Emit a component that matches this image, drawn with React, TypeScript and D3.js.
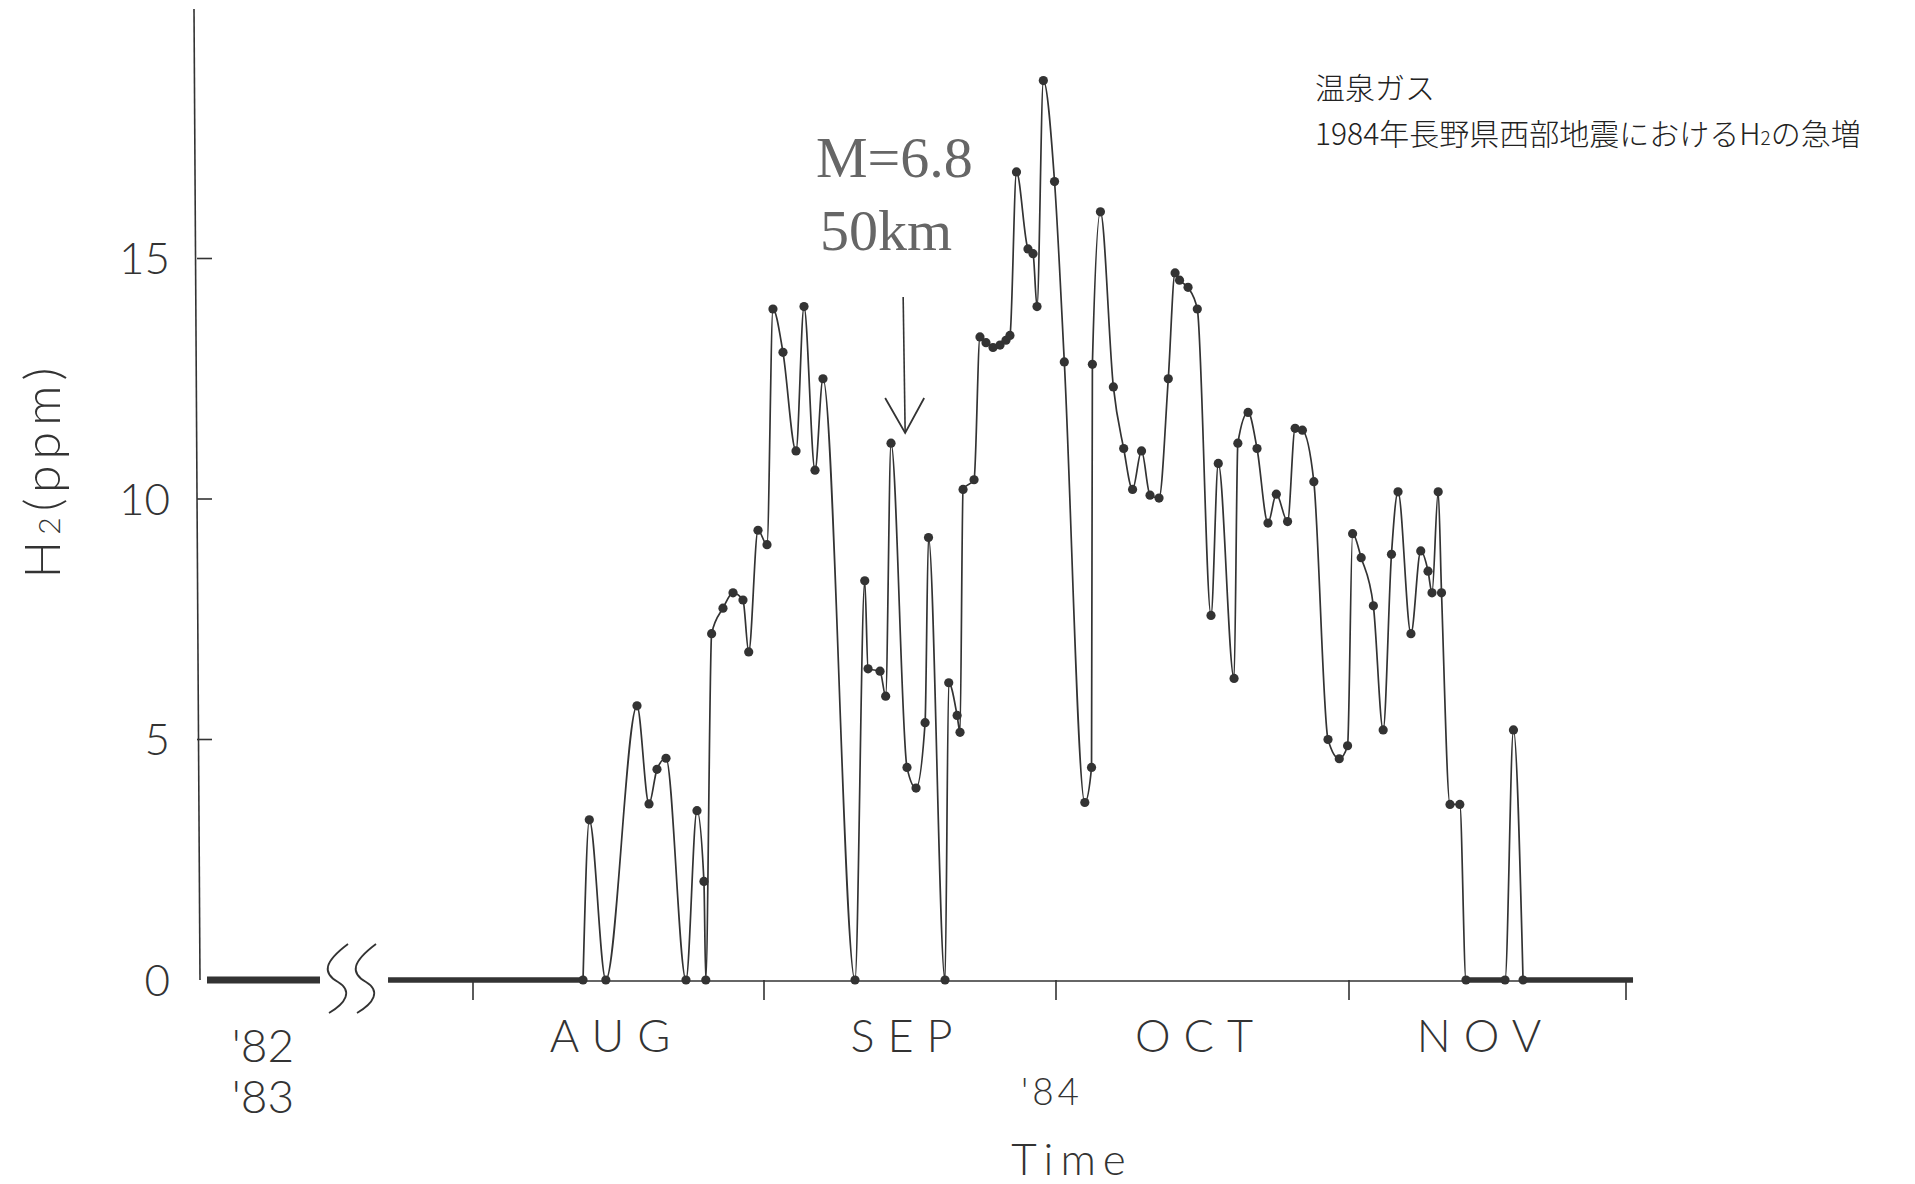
import React from "react";
import * as d3 from "d3";

// ---- data (days counted from 1 Aug 1984) ----
const days: number[] = [
  11.72, 12.39, 14.15, 17.47, 18.75, 19.6, 20.56, 22.69, 23.86, 24.6, 24.8,
  25.42, 26.63, 27.7, 28.76, 29.37, 30.36, 31.31, 31.92, 32.95, 34.29, 35.11,
  36.24, 37.06, 40.35, 41.35, 41.69, 42.92, 43.5, 44.05, 45.69, 46.62, 47.55,
  47.9, 49.6, 49.98, 50.84, 51.14, 51.45, 52.58, 53.19, 53.81, 54.53, 55.25,
  55.86, 56.27, 56.94, 58.12, 58.64, 59.05, 59.7, 60.85, 61.88, 64.05, 64.76,
  64.85, 65.7, 67.07, 68.16, 69.1, 70.05, 70.95, 71.9, 72.88, 73.6, 74.07,
  74.97, 75.95, 77.4, 78.17, 79.84, 80.24, 81.32, 82.27, 83.43, 84.31, 85.5,
  86.3, 87.07, 88.28, 89.78, 90.97, 91.85, 92.39, 93.32, 94.64, 95.7, 96.6,
  97.31, 98.71, 99.77, 100.56, 100.99, 101.66, 102.02, 102.94, 104.0, 104.67,
  108.9, 109.81, 110.85,
];
const h2ppm: number[] = [
  0, 3.33, 0, 5.7, 3.66, 4.38, 4.61, 0, 3.52, 2.05, 0,
  7.2, 7.73, 8.05, 7.9, 6.82, 9.35, 9.05, 13.95, 13.05, 11.0, 14.0,
  10.6, 12.5, 0, 8.3, 6.47, 6.42, 5.9, 11.16, 4.42, 3.99, 5.35,
  9.2, 0, 6.18, 5.5, 5.15, 10.2, 10.4, 13.37, 13.25, 13.15, 13.2,
  13.3, 13.4, 16.8, 15.2, 15.1, 14.0, 18.7, 16.6, 12.85, 3.69, 4.42,
  12.8, 15.97, 12.33, 11.05, 10.2, 11.0, 10.08, 10.02, 12.5, 14.7, 14.55,
  14.4, 13.95, 7.58, 10.74, 6.27, 11.16, 11.8, 11.05, 9.5, 10.1, 9.53,
  11.47, 11.43, 10.36, 5.0, 4.6, 4.87, 9.28, 8.78, 7.78, 5.2, 8.85,
  10.15, 7.2, 8.92, 8.5, 8.05, 10.15, 8.05, 3.65, 3.65, 0,
  0, 5.2, 0,
];
// periods with H2 = 0 (start day, end day)
const zeroRuns84: [number, number][] = [[-9.05, 11.72], [104.67, 108.9], [110.85, 122.76]];
const zeroRuns8283: [number, number][] = [[1982, 1984]];

const monthTickDays: number[] = [0, 31, 61, 92, 122];
const monthLabels: string[] = ["AUG", "SEP", "OCT", "NOV"];
const yTicks: number[] = [0, 5, 10, 15];
const quakeDay = 45.4;
const quakeText: string[] = ["M=6.8", "50km"];
const titleLines: string[] = ["温泉ガス", "1984年長野県西部地震における"];
const yearLabels8283: string[] = ["'82", "'83"];

const INK = "#333";
const SANS = "Lato, 'Open Sans', 'DejaVu Sans', sans-serif";

export default function App() {
  const x = d3.scaleLinear().domain(monthTickDays).range([473, 764, 1056, 1349, 1626]);
  const xPre = d3.scaleLinear().domain([1982, 1984]).range([207, 320]);
  const y = d3.scaleLinear().domain([0, 10]).range([980, 499]);
  const yTop = 9;

  const pts = days.map((d, i) => [d, h2ppm[i]] as [number, number]);
  const line = d3
    .line<[number, number]>()
    .x((p) => x(p[0]))
    .y((p) => y(p[1]))
    .curve(d3.curveMonotoneX);

  const ax = 197;
  const y0 = y(0);
  const qx = x(quakeDay);

  return (
    <svg
      width={1915}
      height={1184}
      style={{ position: "absolute", left: 0, top: 0, background: "#fff" }}
    >
      <rect width={1915} height={1184} fill="#fff" />
      {/* y axis */}
      <line x1={ax - 3} y1={yTop} x2={ax + 3} y2={y0} stroke={INK} strokeWidth={1.6} />
      {yTicks.map((t) => (
        <g key={t}>
          {t > 0 && <line x1={ax} x2={ax + 15} y1={y(t)} y2={y(t)} stroke={INK} strokeWidth={1.6} />}
          <text
            x={170}
            y={y(t)}
            dy="0.36em"
            textAnchor="end"
            fontFamily={SANS}
            fontWeight={300}
            fontSize={44}
            fill={INK}
          >
            {t}
          </text>
        </g>
      ))}
      {/* y label */}
      <text
        transform={`translate(60,470) rotate(-90)`}
        textAnchor="middle"
        fontFamily={SANS}
        fontWeight={300}
        fontSize={50}
        letterSpacing={6}
        fill={INK}
      >
        H<tspan fontSize={30}>2</tspan>(ppm)
      </text>

      {/* '82-'83 segment */}
      {zeroRuns8283.map((r, i) => (
        <line key={i} x1={xPre(r[0])} x2={xPre(r[1])} y1={y0} y2={y0} stroke={INK} strokeWidth={7} />
      ))}
      <text textAnchor="middle" fontFamily={SANS} fontWeight={300} fontSize={46} fill={INK}>
        {yearLabels8283.map((s, i) => (
          <tspan key={i} x={263} y={1062 + i * 51}>
            {s}
          </tspan>
        ))}
      </text>
      {/* axis break */}
      {[0, 28].map((o) => (
        <path
          key={o}
          d={`M${348 + o},944 C${324 + o},962 ${322 + o},973 ${338 + o},982 C${353 + o},991 ${346 + o},1003 ${329 + o},1013`}
          fill="none"
          stroke={INK}
          strokeWidth={1.8}
        />
      ))}

      {/* 1984 x axis */}
      <line x1={x(-9.05)} x2={x(122.76)} y1={y0 + 1} y2={y0 + 1} stroke={INK} strokeWidth={1.6} />
      {monthTickDays.map((d) => (
        <line key={d} x1={x(d)} x2={x(d)} y1={y0} y2={y0 + 20} stroke={INK} strokeWidth={1.6} />
      ))}
      {monthLabels.map((m, i) => (
        <text
          key={m}
          x={(x(monthTickDays[i]) + x(monthTickDays[i + 1])) / 2 - 2}
          y={1052}
          textAnchor="middle"
          fontFamily={SANS}
          fontWeight={300}
          fontSize={45}
          letterSpacing={13}
          fill={INK}
        >
          {m}
        </text>
      ))}
      <text x={1052} y={1105} textAnchor="middle" fontFamily={SANS} fontWeight={300} fontSize={37} letterSpacing={4} fill={INK}>
        '84
      </text>
      <text x={1072} y={1175} textAnchor="middle" fontFamily={SANS} fontWeight={300} fontSize={44} letterSpacing={7} fill={INK}>
        Time
      </text>

      {/* zero periods */}
      {zeroRuns84.map((r, i) => (
        <line key={i} x1={x(r[0])} x2={x(r[1])} y1={y0} y2={y0} stroke={INK} strokeWidth={5.5} />
      ))}

      {/* data */}
      <path d={line(pts) || ""} fill="none" stroke={INK} strokeWidth={1.7} />
      {pts.map((p, i) => (
        <circle key={i} cx={x(p[0])} cy={y(p[1])} r={4.6} fill={INK} />
      ))}

      {/* earthquake annotation */}
      <line x1={qx - 1} y1={297} x2={qx + 1} y2={433} stroke={INK} strokeWidth={1.6} />
      <path d={`M${qx - 19},398 L${qx + 1},433 L${qx + 20},398`} fill="none" stroke={INK} strokeWidth={1.8} />
      {quakeText.map((s, i) => (
        <text
          key={s}
          x={816 + i * 4}
          y={177 + i * 73}
          fontFamily="'Liberation Serif', 'DejaVu Serif', serif"
          fontSize={58}
          fill="#666"
        >
          {s}
        </text>
      ))}

      {/* title */}
      <text fontFamily="'Noto Sans CJK JP', sans-serif" fontWeight={300} fontSize={30} fill="#222">
        <tspan x={1315} y={99}>
          {titleLines[0]}
        </tspan>
        <tspan x={1315} y={145}>
          {titleLines[1]}H
          <tspan fontSize={19}>2</tspan>
          の急増
        </tspan>
      </text>
    </svg>
  );
}
